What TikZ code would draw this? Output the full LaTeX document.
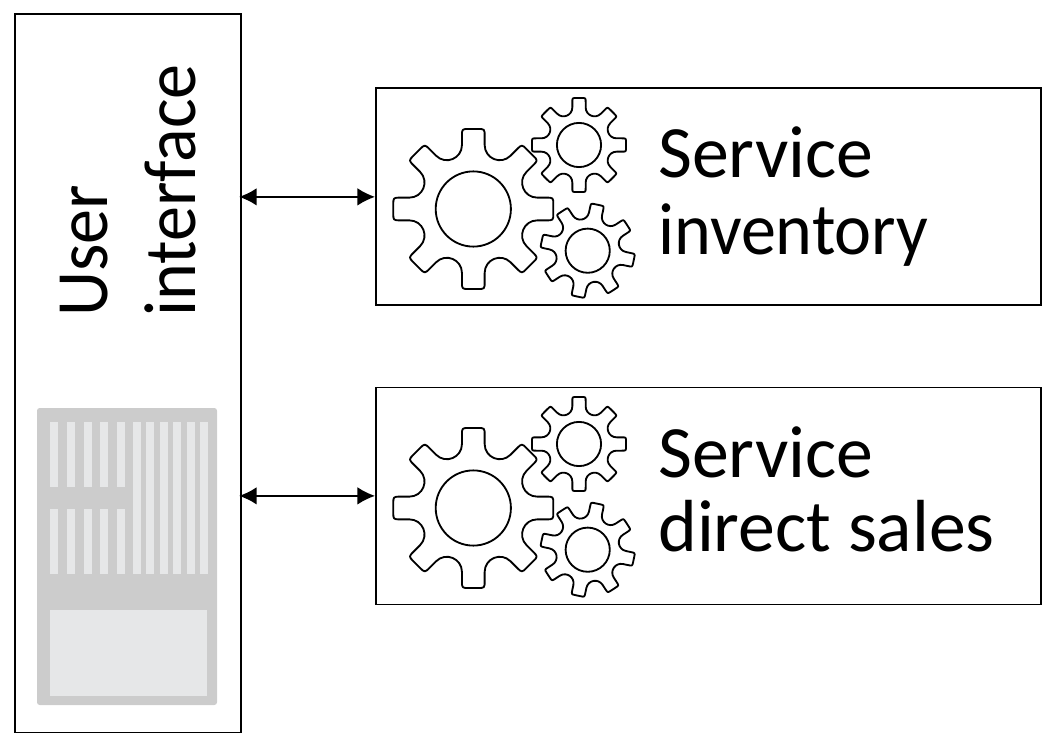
\documentclass[tikz,border=0pt]{standalone}
\usepackage{fontspec}
\setmainfont{Carlito}
\newfontfamily\tightfont[FakeStretch=0.95]{Carlito}
\usetikzlibrary{positioning}
\usetikzlibrary{arrows.meta}
\definecolor{barcolor}{HTML}{E6E7E8}
\tikzset{
  box/.style={draw=black, line width=1pt},
  label/.style={font=\fontsize{42}{48}\selectfont, align=left, inner sep=0pt},
  tightlabel/.style={font=\fontsize{42}{48}\selectfont\tightfont, align=left, inner sep=0pt},
  link/.style={line width=0.9pt, shorten <=-1.5pt, {Latex[length=10pt,width=10pt]}-{Latex[length=10pt,width=10pt]}},
  gearline/.style={line width=1.05pt, line join=round},
  backpanel/.style={fill=black!20, rounded corners=1.5pt},
  bar/.style={fill=barcolor}
}
\newcommand{\drawgear}[4]{
\draw [gearline, shift={(#1,#2)}, rotate=#4, scale=#3] (0.80,-0.142)
  \foreach \a [evaluate=\a as \b using \a-45] in {0,-45,...,-315} {
    -- ([rotate=\a]0.91,-0.142) .. controls ([rotate=\a]1,-0.142) and ([rotate=\a]1,-0.142) .. ([rotate=\a]1,-0.055)
    -- ([rotate=\a]1,0.055) .. controls ([rotate=\a]1,0.142) and ([rotate=\a]1,0.142) .. ([rotate=\a]0.91,0.142)
    -- ([rotate=\a]0.80,0.142) .. controls ([rotate=\a]0.63,0.142) and ([rotate=\b]0.63,-0.142) .. ([rotate=\b]0.80,-0.142)
  } -- cycle;
\draw [gearline] (#1,#2) circle [radius=0.47*#3];
}
\begin{document}
\begin{tikzpicture}[x=0.02cm, y=-0.02cm]
\useasboundingbox (0,0) rectangle (1055,743);
\node [box, minimum width=226*0.02cm, minimum height=718*0.02cm, anchor=north west] (ui) at (14,13.5) {};
\node [box, minimum width=665*0.02cm, minimum height=217*0.02cm, anchor=north west] (inventory) at (375,87.5) {};
\node [box, minimum width=665*0.02cm, minimum height=217*0.02cm, anchor=north west] (sales) at (375,386.5) {};
\draw [link] (ui.east |- inventory.west) -- (inventory.west);
\draw [link] (ui.east |- sales.west) -- (sales.west);
% labels
\node [tightlabel, rotate=90, anchor=base west] (uitext) at (107,317) {User};
\node [tightlabel, rotate=90, anchor=base west] (uitexttwo) at (195,317) {interface};
\node [label, anchor=base west] (invtext) at (658,178) {Service};
\node [tightlabel, anchor=base west] (invtexttwo) at (658,255) {inventory};
\node [label, anchor=base west] (salestext) at (658,477) {Service};
\node [label, anchor=base west] (salestexttwo) at (658,551) {direct sales};
% gears
\foreach \dy in {0,299} {
  \drawgear{473.3}{209+\dy}{80}{0}
  \drawgear{579}{145+\dy}{47}{0}
  \drawgear{587.7}{250.7+\dy}{47}{-12}
}
% screen mockup
\fill [backpanel] (37,408) rectangle (217,705);
\foreach \x/\w in {50/8,67/8,84/8,100.3/8,117/8} {
  \fill [bar] (\x,422) rectangle (\x+\w,487);
  \fill [bar] (\x,509) rectangle (\x+\w,574);
}
\foreach \x/\w in {133/8,146/8,160/8,173/8,187/8,200.3/8} {
  \fill [bar] (\x,422) rectangle (\x+\w,574);
}
\fill [bar] (50,610) rectangle (206.7,696);
\end{tikzpicture}
\end{document}
